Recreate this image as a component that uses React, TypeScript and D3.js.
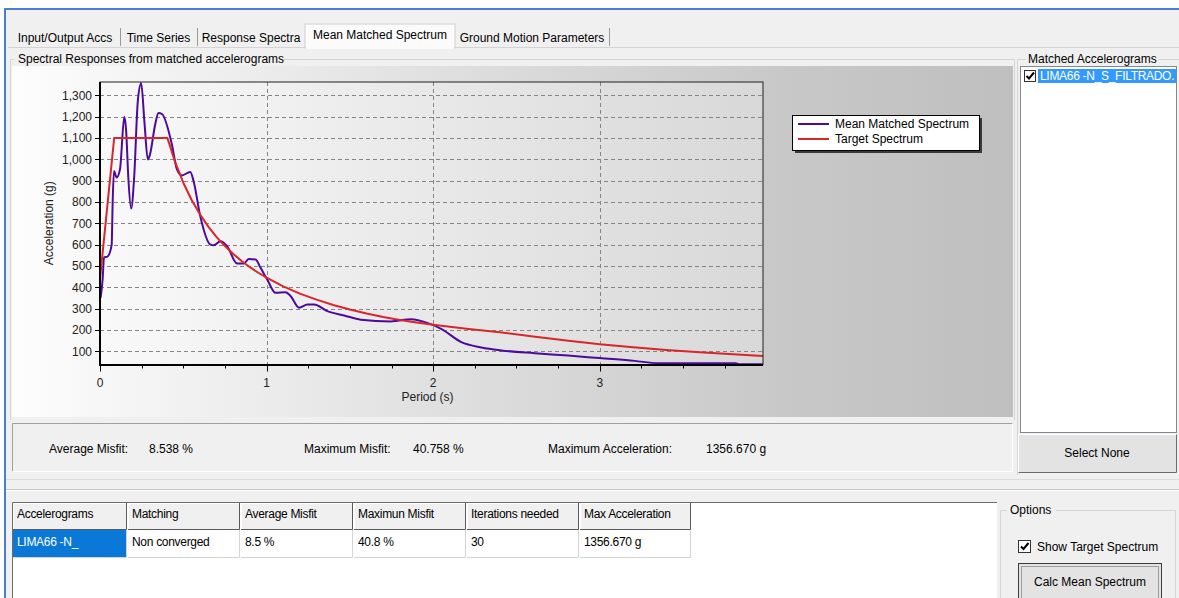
import React from "react";
import * as d3 from "d3";

// mean matched spectrum (purple)
const meanPeriods = [
  0.003, 0.016, 0.024, 0.045, 0.07, 0.076, 0.084, 0.1, 0.12, 0.146, 0.157, 0.17,
  0.187, 0.205, 0.227, 0.247, 0.267, 0.287, 0.3, 0.331, 0.351, 0.372, 0.432,
  0.462, 0.492, 0.52, 0.542, 0.562, 0.602, 0.663, 0.683, 0.723, 0.763, 0.823,
  0.863, 0.893, 0.934, 0.964, 1.004, 1.054, 1.114, 1.145, 1.195, 1.245, 1.285,
  1.365, 1.466, 1.566, 1.747, 1.867, 1.968, 2.048, 2.169, 2.29, 2.41, 2.61,
  2.81, 2.998, 3.21, 3.35, 3.815, 3.835, 3.98,
];
const meanAcc = [
  350, 440, 541, 545, 600, 800, 946, 915, 954, 1200, 1134, 915,
  770, 915, 1273, 1357, 1173, 1000, 1023, 1163, 1218, 1213, 1069,
  953, 925, 935, 941, 898, 734, 601, 598, 617, 594, 512,
  512, 534, 531, 492, 437, 375, 378, 359, 305, 320, 320,
  289, 269, 249, 241, 251, 233, 206, 144, 119, 105, 92,
  81, 69, 56, 45, 45, 40, 40,
];

// target spectrum (red)
const targetPeriods = [
  0, 0.085, 0.405, 0.45, 0.5, 0.55, 0.6, 0.65, 0.7, 0.75, 0.8, 0.85, 0.9, 0.95,
  1.0, 1.1, 1.2, 1.3, 1.4, 1.5, 1.6, 1.7, 1.8, 1.9, 2.0, 2.2, 2.4,
  2.6, 2.8, 3.0, 3.2, 3.4, 3.6, 3.8, 3.98,
];
const targetAcc = [
  440, 1100, 1100, 990, 891, 810, 743, 685, 636, 594, 557, 524, 495, 469,
  446, 405, 371, 343, 318, 297, 278, 262, 248, 236, 225, 207, 190,
  170, 152, 134, 120, 107, 96, 87, 79,
];

const xTickValues = [0, 1, 2, 3];
const xMinorTicks = d3.range(0, 3.99, 0.25);
const yTickValues = [100, 200, 300, 400, 500, 600, 700, 800, 900, 1000, 1100, 1200, 1300];

const tabLabels = ["Input/Output Accs", "Time Series", "Response Spectra", "Mean Matched Spectrum", "Ground Motion Parameters"];
const legendLabels = ["Mean Matched Spectrum", "Target Spectrum"];
const statLabels = ["Average Misfit:", "Maximum Misfit:", "Maximum Acceleration:"];
const statValues = ["8.538 %", "40.758 %", "1356.670 g"];
const tableHeaders = ["Accelerograms", "Matching", "Average Misfit", "Maximun Misfit", "Iterations needed", "Max Acceleration"];
const tableRow = ["LIMA66 -N_", "Non converged", "8.5 %", "40.8 %", "30", "1356.670 g"];
const listItems = ["LIMA66 -N_S_FILTRADO."];

const FONT = "'Liberation Sans', Arial, sans-serif";
const PURPLE = "#4c0a9c";
const RED = "#d8262a";

const App = () => {
  const W = 1179;
  const H = 598;
  const plot = { left: 100, right: 763, top: 82, bottom: 364.5 };

  const x = d3.scaleLinear().domain([0, 3.98]).range([plot.left, plot.right]);
  const y = d3.scaleLinear().domain([39, 1363]).range([plot.bottom, plot.top]);

  const meanLine = d3
    .line<[number, number]>()
    .x((d) => x(d[0]))
    .y((d) => y(d[1]))
    .curve(d3.curveMonotoneX);
  const targetLine = d3
    .line<[number, number]>()
    .x((d) => x(d[0]))
    .y((d) => y(d[1]));

  const meanPath = meanLine(meanPeriods.map((p, i) => [p, meanAcc[i]]));
  const targetPath = targetLine(targetPeriods.map((p, i) => [p, targetAcc[i]]));
  const fmt = d3.format(",");

  // tab layout
  const tabEdges = [10, 120, 197, 305, 455, 609];
  const statX = [[49, 149], [304, 413], [548, 706]];
  const colEdges = [12, 127, 240, 353, 466, 579, 691];

  return (
    <div style={{ position: "absolute", left: 0, top: 0 }}>
      <svg width={W} height={H} style={{ display: "block" }} fontFamily={FONT} fontSize={12}>
        <defs>
          <linearGradient id="panelGrad" x1="0" x2="1" y1="0" y2="0">
            <stop offset="0" stopColor="#fdfdfd" />
            <stop offset="0.77" stopColor="#c8c8c8" />
            <stop offset="1" stopColor="#bfbfbf" />
          </linearGradient>
          <linearGradient id="plotGrad" x1="0" x2="1" y1="0" y2="0">
            <stop offset="0" stopColor="#f9f9f9" />
            <stop offset="1" stopColor="#d8d8d8" />
          </linearGradient>
          <clipPath id="plotClip">
            <rect x={plot.left} y={plot.top} width={plot.right - plot.left} height={plot.bottom - plot.top} />
          </clipPath>
          <clipPath id="listClip">
            <rect x={1021} y={67} width={155} height={364} />
          </clipPath>
        </defs>

        {/* window */}
        <rect x={0} y={0} width={W} height={H} fill="#ffffff" />
        <rect x={5} y={9} width={W - 5} height={H - 9} fill="#f0f0f0" />
        <line x1={4} x2={W} y1={9} y2={9} stroke="#4a7fd0" strokeWidth={2} />
        <line x1={5} x2={5} y1={8} y2={H} stroke="#4a7fd0" strokeWidth={2} />

        {/* tabs */}
        <line x1={8} x2={W} y1={47.5} y2={47.5} stroke="#d4d4d4" />
        <rect x={tabEdges[3]} y={24} width={tabEdges[4] - tabEdges[3]} height={24} fill="#fbfbfb" stroke="#d0d0d0" />
        <rect x={tabEdges[3] + 1} y={47} width={tabEdges[4] - tabEdges[3] - 2} height={2} fill="#fbfbfb" />
        {tabLabels.map((t, i) => (
          <g key={t}>
            <text x={(tabEdges[i] + tabEdges[i + 1]) / 2} y={i === 3 ? 39 : 42} textAnchor="middle" fill="#000">
              {t}
            </text>
            {i !== 2 && i !== 3 && (
              <line x1={tabEdges[i + 1] + 0.5} x2={tabEdges[i + 1] + 0.5} y1={28} y2={46} stroke="#9a9a9a" />
            )}
          </g>
        ))}

        {/* group box around chart */}
        <path d="M 14.5 59.5 H 10.5 V 420 M 284 59.5 H 1014.5 V 420" fill="none" stroke="#d5d5d5" />
        <text x={18} y={63} fill="#000">Spectral Responses from matched accelerograms</text>

        {/* chart panel */}
        <rect x={12} y={66} width={1001} height={351} fill="url(#panelGrad)" />
        <rect x={plot.left} y={plot.top} width={plot.right - plot.left} height={plot.bottom - plot.top} fill="url(#plotGrad)" />

        {/* grid */}
        <g stroke="#858585" strokeDasharray="4 3" strokeWidth={1}>
          {yTickValues.map((v) => (
            <line key={v} x1={plot.left} x2={plot.right} y1={Math.round(y(v)) + 0.5} y2={Math.round(y(v)) + 0.5} />
          ))}
          {xTickValues.filter((v) => v > 0).map((v) => (
            <line key={v} x1={Math.round(x(v)) + 0.5} x2={Math.round(x(v)) + 0.5} y1={plot.top} y2={plot.bottom} />
          ))}
        </g>

        {/* series */}
        <g clipPath="url(#plotClip)" fill="none" strokeWidth={2} strokeLinejoin="round">
          <path d={meanPath ?? ""} stroke={PURPLE} />
          <path d={targetPath ?? ""} stroke={RED} />
        </g>

        {/* frame and axes */}
        <rect x={plot.left} y={plot.top} width={plot.right - plot.left} height={plot.bottom - plot.top} fill="none" stroke="#202020" strokeWidth={1} />
        <line x1={plot.left} x2={plot.left} y1={plot.top} y2={plot.bottom + 1} stroke="#000" strokeWidth={2} />
        <line x1={plot.left - 1} x2={plot.right} y1={plot.bottom + 0.5} y2={plot.bottom + 0.5} stroke="#000" strokeWidth={2} />

        {yTickValues.map((v) => (
          <g key={v}>
            <line x1={plot.left - 5} x2={plot.left} y1={Math.round(y(v)) + 0.5} y2={Math.round(y(v)) + 0.5} stroke="#000" />
            <text x={plot.left - 8} y={y(v)} dy="0.35em" textAnchor="end" fill="#222">
              {fmt(v)}
            </text>
          </g>
        ))}
        {xMinorTicks.map((v) => (
          <line key={v} x1={Math.round(x(v)) + 0.5} x2={Math.round(x(v)) + 0.5} y1={plot.bottom + 1} y2={plot.bottom + (v % 1 === 0 ? 7 : 4)} stroke="#000" />
        ))}
        {xTickValues.map((v) => (
          <text key={v} x={x(v)} y={387} textAnchor="middle" fill="#222">
            {v}
          </text>
        ))}
        <text x={(plot.left + plot.right) / 2 - 4} y={401} textAnchor="middle" fill="#222">Period (s)</text>
        <text transform={`translate(53,${(plot.top + plot.bottom) / 2}) rotate(-90)`} textAnchor="middle" fill="#222">
          Acceleration (g)
        </text>

        {/* legend */}
        <rect x={795} y={118} width={187} height={35} fill="#3a3a3a" />
        <rect x={792.5} y={115.5} width={187} height={35} fill="#fff" stroke="#000" />
        {legendLabels.map((l, i) => (
          <g key={l}>
            <line x1={798} x2={829} y1={124 + i * 15} y2={124 + i * 15} stroke={i === 0 ? PURPLE : RED} strokeWidth={2} />
            <text x={835} y={128 + i * 15} fill="#000">{l}</text>
          </g>
        ))}

        {/* matched accelerograms list */}
        <path d="M 1026 59.5 H 1017.5 V 475 M 1158 59.5 H 1179" fill="none" stroke="#d5d5d5" />
        <text x={1028} y={63} fill="#000">Matched Accelerograms</text>
        <rect x={1020.5} y={66.5} width={156} height={366} fill="#fff" stroke="#828790" />
        <g clipPath="url(#listClip)">
          {listItems.map((it, i) => (
            <g key={it}>
              <rect x={1024.5} y={70.5 + i * 15} width={11} height={11} fill="#fff" stroke="#333" />
              <path d={`M 1026.5 ${76 + i * 15} l 2.5 2.5 l 5 -6`} fill="none" stroke="#000" strokeWidth={2} />
              <rect x={1038} y={69 + i * 15} width={140} height={14} fill="#3399ff" />
              <text x={1040} y={80 + i * 15} fill="#fff" letterSpacing={-0.3}>{it}</text>
            </g>
          ))}
        </g>
        <rect x={1018} y={434} width={159} height={39} fill="#e3e3e3" />
        <path d="M 1018.5 472.5 V 434.5 H 1176.5" fill="none" stroke="#ffffff" />
        <path d="M 1018.5 472.5 H 1176.5 V 434.5" fill="none" stroke="#6b6b6b" />
        <text x={1097} y={457} textAnchor="middle" fill="#000">Select None</text>

        {/* stats panel */}
        <rect x={12} y={423} width={1001} height={49} fill="#f0f0f0" />
        <path d="M 12.5 471.5 V 423.5 H 1012.5" fill="none" stroke="#a0a0a0" />
        <path d="M 12.5 471.5 H 1012.5 V 423.5" fill="none" stroke="#ffffff" />
        {statLabels.map((s, i) => (
          <g key={s}>
            <text x={statX[i][0]} y={453} fill="#000">{s}</text>
            <text x={statX[i][1]} y={453} fill="#000">{statValues[i]}</text>
          </g>
        ))}

        {/* lower section */}
        <line x1={6} x2={W} y1={479.5} y2={479.5} stroke="#dcdcdc" />
        <line x1={6} x2={W} y1={489.5} y2={489.5} stroke="#c8c8c8" />
        <line x1={6} x2={W} y1={490.5} y2={490.5} stroke="#ffffff" />

        {/* table */}
        <rect x={12} y={502} width={985} height={100} fill="#fff" />
        <path d="M 12.5 600 V 502.5 H 997" fill="none" stroke="#6d6d6d" strokeWidth={1} />
        {tableHeaders.map((h, i) => (
          <g key={h}>
            <rect x={colEdges[i] + 1} y={503} width={colEdges[i + 1] - colEdges[i] - 1} height={27} fill="#f0f0f0" />
            <path
              d={`M ${colEdges[i] + 1.5} 529 V 503.5 H ${colEdges[i + 1]}`}
              fill="none"
              stroke="#ffffff"
            />
            <path
              d={`M ${colEdges[i] + 1} 529.5 H ${colEdges[i + 1] - 0.5} V 503`}
              fill="none"
              stroke="#5a5a5a"
            />
            <text x={colEdges[i] + 5} y={518} fill="#000" letterSpacing={-0.3}>{h}</text>
            <rect
              x={colEdges[i] + 1}
              y={530}
              width={colEdges[i + 1] - colEdges[i] - 1}
              height={27}
              fill={i === 0 ? "#0a78d7" : "#fff"}
            />
            <path
              d={`M ${colEdges[i] + 1} 557.5 H ${colEdges[i + 1] - 0.5} V 530`}
              fill="none"
              stroke="#d4d4d4"
            />
            <text x={colEdges[i] + 5} y={546} fill={i === 0 ? "#fff" : "#000"} letterSpacing={-0.3}>{tableRow[i]}</text>
          </g>
        ))}

        {/* options */}
        <path d="M 1007 510.5 H 1000.5 V 600 M 1056 510.5 H 1175.5 V 600" fill="none" stroke="#d5d5d5" />
        <text x={1010} y={514} fill="#000">Options</text>
        <rect x={1018.5} y={540.5} width={12} height={12} fill="#fff" stroke="#333" />
        <path d="M 1021 546.5 l 2.5 2.5 l 5 -6" fill="none" stroke="#000" strokeWidth={2} />
        <text x={1037} y={551} fill="#000">Show Target Spectrum</text>
        <rect x={1018.5} y={563.5} width={143} height={40} fill="#e3e3e3" stroke="#3c3c3c" />
        <rect x={1021.5} y={566.5} width={137} height={40} fill="none" stroke="#555" strokeDasharray="1 1" />
        <text x={1090} y={586} textAnchor="middle" fill="#000">Calc Mean Spectrum</text>
      </svg>
    </div>
  );
};

export default App;
